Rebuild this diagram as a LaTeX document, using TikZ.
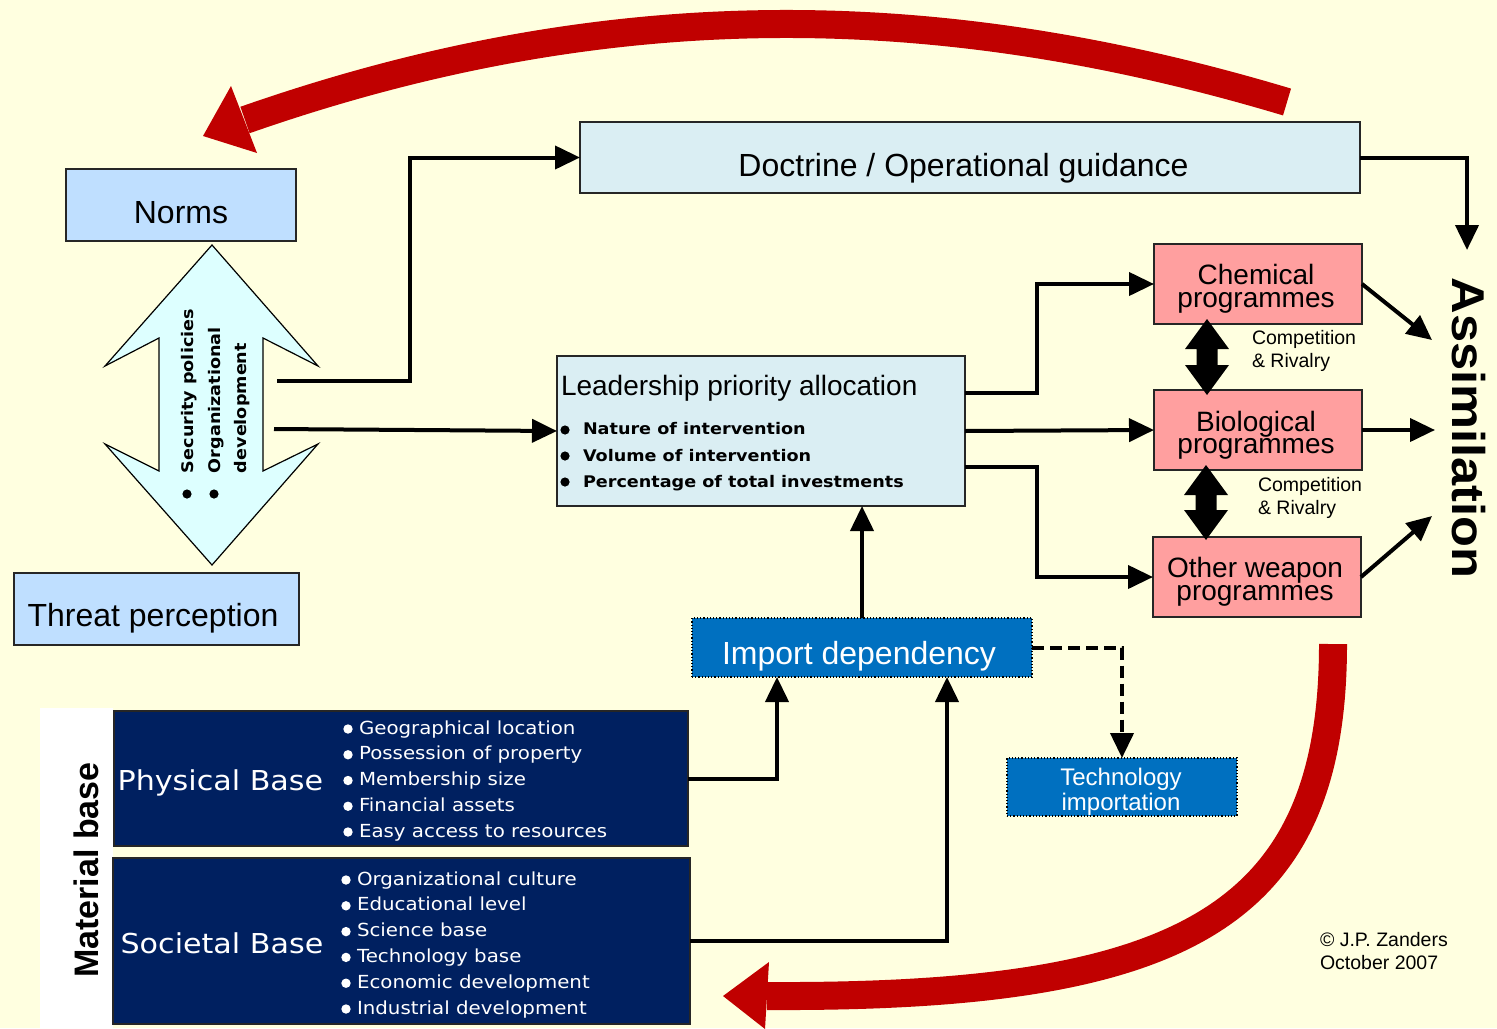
\documentclass[tikz,border=0pt]{standalone}
\usepackage{fontspec}
\setmainfont{Liberation Sans}
\newfontfamily\tahfont[FakeStretch=1.1]{DejaVu Sans}
\newfontfamily\blkfont[FakeStretch=1.1]{DejaVu Sans}
\newfontfamily\asfont[FakeStretch=1.1]{Liberation Sans}
\usetikzlibrary{arrows.meta,calc}
\definecolor{bgc}{HTML}{FFFFE0}
\definecolor{normc}{HTML}{BFDFFF}
\definecolor{docc}{HTML}{DAEEF3}
\definecolor{dac}{HTML}{DDFFFF}
\definecolor{pinkc}{HTML}{FF9F9F}
\definecolor{impc}{HTML}{0070C0}
\definecolor{navyc}{HTML}{002060}
\definecolor{redc}{HTML}{C00000}
\newcommand\fsz[1]{\fontsize{#1}{#1}\selectfont}
\begin{document}
\begin{tikzpicture}[x=0.5pt,y=-0.5pt,
  box/.style={draw=black!85, line width=0.8pt, inner sep=0pt, outer sep=0pt},
  txt/.style={inner sep=0pt, outer sep=0pt, anchor=base},
  txtw/.style={inner sep=0pt, outer sep=0pt, anchor=base west},
  two/.style={inner sep=0pt, outer sep=0pt, anchor=north, align=center},
  twol/.style={inner sep=0pt, outer sep=0pt, anchor=north west, align=left},
  conn/.style={line width=2pt, -{Triangle[length=12.5pt,width=11.5pt]}},
  dashconn/.style={conn, dash pattern=on 6pt off 3pt},
  bigred/.style={draw=redc, line width=14pt},
  dotbox/.style={draw=black, line width=0.6pt, densely dotted, inner sep=0pt, outer sep=0pt, fill=impc}]
\useasboundingbox (0,0) rectangle (1497,1028);
\fill[bgc] (0,0) rectangle (1497,1028);

% red arrows
\draw[bigred] (1287,102) .. controls (950,1) and (619,-11) .. (245,120);
\fill[redc] (231,86) -- (203,136) -- (257,153) -- cycle;
\draw[bigred] (1333,644) .. controls (1333,920) and (1180,998) .. (767,996);
\fill[redc] (769,962) -- (723,996) -- (765,1029) -- cycle;

% boxes
\node[box, fill=normc, minimum width=115pt, minimum height=36pt] (norms) at (181,205) {};
\node[box, fill=normc, minimum width=142.5pt, minimum height=36pt] (threat) at (156.5,609) {};
\node[box, fill=docc, minimum width=390pt, minimum height=35.5pt] (doc) at (970,157.5) {};
\node[box, fill=docc, minimum width=204pt, minimum height=75pt] (lead) at (761,431) {};
\node[box, fill=pinkc, minimum width=104pt, minimum height=40pt] (chem) at (1258,284) {};
\node[box, fill=pinkc, minimum width=104pt, minimum height=40pt] (bio) at (1258,430) {};
\node[box, fill=pinkc, minimum width=104pt, minimum height=40pt] (other) at (1257,577) {};
\node[dotbox, minimum width=170pt, minimum height=29.5pt] (imp) at (862,647.5) {};
\node[dotbox, minimum width=115pt, minimum height=29pt] (tech) at (1122,787) {};
\fill[white] (40,708) rectangle (113,1028);
\node[box, fill=navyc, minimum width=287pt, minimum height=67.5pt] (phys) at (401,778.5) {};
\node[box, fill=navyc, minimum width=288.5pt, minimum height=83pt] (soc) at (401.5,941) {};

% big double arrow
\filldraw[fill=dac, draw=black, line width=0.6pt] (212,245) -- (318,366) -- (263,338) -- (263,471) -- (318,444) -- (212,565) -- (105,444) -- (159,471) -- (159,338) -- (105,366) -- cycle;
\node[txtw, rotate=90, font=\blkfont\bfseries\fsz{8}] (secp) at (193,473) {Security policies};
\node[txtw, rotate=90, font=\blkfont\bfseries\fsz{8}] (orgd1) at (220,473) {Organizational};
\node[txtw, rotate=90, font=\blkfont\bfseries\fsz{8}] (orgd2) at (246,473) {development};
\fill (187,494) circle[radius=2.3pt];
\fill (214,494) circle[radius=2.3pt];

% small double arrows
\fill (1207,319) -- (1229,349) -- (1217.5,349) -- (1217.5,365) -- (1229,365) -- (1207,395) -- (1185,365) -- (1196.5,365) -- (1196.5,349) -- (1185,349) -- cycle;
\fill (1206,465) -- (1228,495) -- (1216.5,495) -- (1216.5,510) -- (1228,510) -- (1206,540) -- (1184,510) -- (1195.5,510) -- (1195.5,495) -- (1184,495) -- cycle;

% texts
\node[txt, font=\fsz{16}] (normsT) at (181,223) {Norms};
\node[txt, font=\fsz{16}] (threatT) at (153,626) {Threat perception};
\node[txt, font=\fsz{16}] (docT) at (963.5,176) {Doctrine / Operational guidance};
\node[txtw, font=\fsz{14}] (leadT) at (561,395) {Leadership priority allocation};
\node[txtw, font=\blkfont\bfseries\fsz{8}] (leadA) at (583,434) {Nature of intervention};
\node[txtw, font=\blkfont\bfseries\fsz{8}] (leadB) at (583,461) {Volume of intervention};
\node[txtw, font=\blkfont\bfseries\fsz{8}] (leadC) at (583,487) {Percentage of total investments};
\fill (565,430) circle[radius=2.3pt];
\fill (565,456) circle[radius=2.3pt];
\fill (565,482) circle[radius=2.3pt];
\node[two, font=\fontsize{14}{11.2}\selectfont] (chemT) at (1256,264.6) {Chemical\\programmes};
\node[two, font=\fontsize{14}{10.8}\selectfont] (bioT) at (1256,411.6) {Biological\\programmes};
\node[two, font=\fontsize{14}{11.3}\selectfont] (othT) at (1255,557.4) {Other weapon\\programmes};
\node[twol, font=\fontsize{9.75}{11.5}\selectfont] (comp1) at (1252,330.8) {Competition\\\& Rivalry};
\node[twol, font=\fontsize{9.75}{11.2}\selectfont] (comp2) at (1258,477.8) {Competition\\\& Rivalry};
\node[txt, font=\asfont\bfseries\fsz{23}, rotate=-90] (assim) at (1452,428) {Assimilation};
\node[txt, font=\fsz{16}, text=white] (impT) at (859,664) {Import dependency};
\node[two, font=\fontsize{12}{10.5}\selectfont, text=white] (techT) at (1121,768.5) {Technology\\importation};
\node[txt, font=\bfseries\fsz{17}, rotate=90] (matT) at (98,870) {Material base};
\node[txtw, font=\tahfont\fsz{13.7}, text=white] (physT) at (117.6,790) {Physical Base};
\node[txtw, font=\tahfont\fsz{13.7}, text=white] (socT) at (120.6,953) {Societal Base};
\foreach \t [count=\i from 0] in {Geographical location, Possession of property, Membership size, Financial assets, Easy access to resources}{
  \node[txtw, font=\tahfont\fsz{9}, text=white] (pl\i) at (359,734+25.75*\i) {\t};
  \fill[white] (348,729+25.75*\i) circle[radius=2.35pt];
}
\foreach \t [count=\i from 0] in {Organizational culture, Educational level, Science base, Technology base, Economic development, Industrial development}{
  \node[txtw, font=\tahfont\fsz{9}, text=white] (sl\i) at (357,885+25.8*\i) {\t};
  \fill[white] (346,880+25.8*\i) circle[radius=2.35pt];
}
\node[twol, font=\fontsize{9.75}{11.5}\selectfont] (copyT) at (1320,932.8) {© J.P. Zanders\\October 2007};

% connectors
\coordinate (daA) at (277,381);
\coordinate (daB) at (274,429);
\coordinate (asTop) at (1467,250);
\coordinate (asC) at (1432,340);
\coordinate (asB) at (1435,430);
\coordinate (asO) at (1432,516);
\draw[conn] (daA) -- (410,381) |- (doc.west);
\draw[conn] (daB) -- (lead.west);
\draw[conn] (doc.east) -| (asTop);
\draw[conn] ([yshift=19pt]lead.east) -- ++(72,0) |- (chem.west);
\draw[conn] (lead.east) -- (bio.west);
\draw[conn] ([yshift=-18pt]lead.east) -- ++(72,0) |- (other.west);
\draw[conn] (chem.east) -- (asC);
\draw[conn] (bio.east) -- (asB);
\draw[conn] (other.east) -- (asO);
\draw[conn] (imp.north) -- (imp.north |- lead.south);
\draw[dashconn] (imp.east) -| (tech.north);
\draw[conn] (phys.east) -| ([xshift=-42.5pt]imp.south);
\draw[conn] (soc.east) -| ([xshift=42.5pt]imp.south);
\end{tikzpicture}
\end{document}
